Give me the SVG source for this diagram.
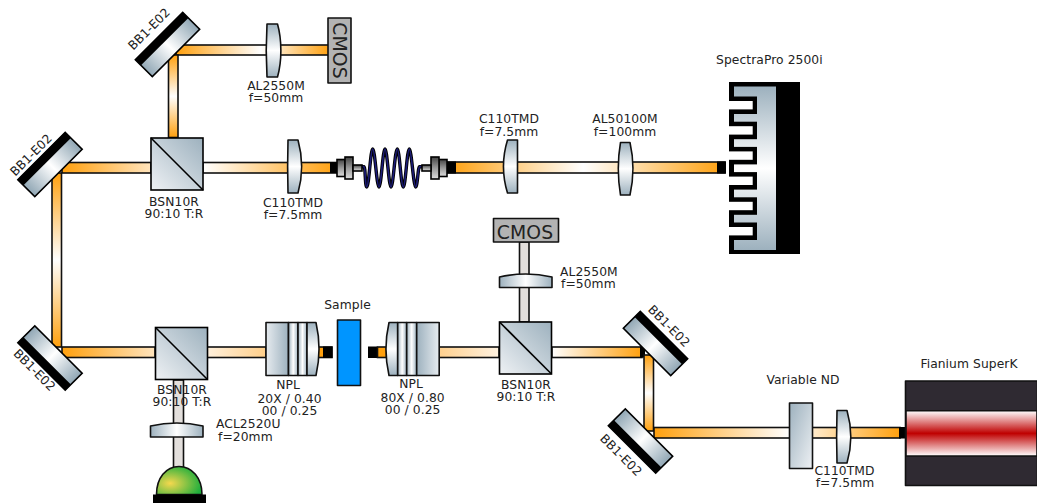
<svg xmlns="http://www.w3.org/2000/svg" width="1037" height="503" viewBox="0 0 1037 503">
<style>
text{font-family:"DejaVu Sans",sans-serif;font-size:12.3px;letter-spacing:.08px;fill:#222;text-anchor:middle}
.s{text-anchor:start}
.b{stroke:#111;stroke-width:1.6}
.k{stroke:#000;stroke-width:1.6}
.n{stroke:#111;stroke-width:1.6;stroke-linejoin:round}
.cm{font-size:18.800px}
</style>
<defs>
<linearGradient id="ow"><stop offset="0" stop-color="#ffa00e"/><stop offset="1" stop-color="#ffe4bd"/></linearGradient>
<linearGradient id="wo"><stop offset="0" stop-color="#fff"/><stop offset="1" stop-color="#ffa00e"/></linearGradient>
<linearGradient id="pl"><stop offset="0" stop-color="#fff0dc"/><stop offset="1" stop-color="#ffcf8a"/></linearGradient>
<linearGradient id="lp"><stop offset="0" stop-color="#ffd08e"/><stop offset="1" stop-color="#fff2e0"/></linearGradient>
<linearGradient id="owo"><stop offset="0" stop-color="#ffa00e"/><stop offset=".55" stop-color="#fff"/><stop offset="1" stop-color="#ffa00e"/></linearGradient>
<linearGradient id="owh"><stop offset="0" stop-color="#ffa00e"/><stop offset=".49" stop-color="#fff"/><stop offset="1" stop-color="#ffa00e"/></linearGradient>
<linearGradient id="owoV" x2="0" y2="1"><stop offset="0" stop-color="#ffa00e"/><stop offset=".5" stop-color="#fff"/><stop offset="1" stop-color="#ffa00e"/></linearGradient>
<linearGradient id="mir"><stop offset="0" stop-color="#91a7b5"/><stop offset=".5" stop-color="#fff"/><stop offset="1" stop-color="#91a7b5"/></linearGradient>
<linearGradient id="lensV" x2="0" y2="1"><stop offset="0" stop-color="#9db1be"/><stop offset=".5" stop-color="#fff"/><stop offset="1" stop-color="#9db1be"/></linearGradient>
<linearGradient id="lensH"><stop offset="0" stop-color="#9db1be"/><stop offset=".5" stop-color="#fff"/><stop offset="1" stop-color="#9db1be"/></linearGradient>
<linearGradient id="cube" x1="0" y1="1" x2="1" y2="0"><stop offset="0" stop-color="#eef1f4"/><stop offset="1" stop-color="#9db1be"/></linearGradient>
<linearGradient id="ltd"><stop offset="0" stop-color="#e6ebef"/><stop offset="1" stop-color="#9db1be"/></linearGradient>
<linearGradient id="dtl"><stop offset="0" stop-color="#9db1be"/><stop offset="1" stop-color="#e6ebef"/></linearGradient>
<linearGradient id="nd" x1="0" y1="0" x2="1" y2="1"><stop offset="0" stop-color="#9db1be"/><stop offset="1" stop-color="#eef1f4"/></linearGradient>
<linearGradient id="red" x2="0" y2="1"><stop offset="0" stop-color="#fff"/><stop offset=".5" stop-color="#bf0000"/><stop offset="1" stop-color="#fff"/></linearGradient>
<linearGradient id="conn" x2="0" y2="1"><stop offset="0" stop-color="#444"/><stop offset=".5" stop-color="#999"/><stop offset="1" stop-color="#ddd"/></linearGradient>
<radialGradient id="dome" cx=".3" cy=".6" r=".7"><stop offset="0" stop-color="#f5d84e"/><stop offset="1" stop-color="#1fae3c"/></radialGradient>
<g id="mirror"><rect x="-33.500" y="-12" width="67" height="24" fill="url(#mir)" class="k"/><rect x="-33.500" y="-12" width="67" height="8" fill="#000"/></g>
<g id="mirrorD"><rect x="-33.500" y="-12" width="67" height="24" fill="url(#mir)" class="k"/><rect x="-33.500" y="4" width="67" height="8" fill="#000"/></g>
<g id="cubeS"><rect width="52" height="52" fill="url(#cube)" class="k"/><path d="M0 0L52 52" class="k"/></g>
<g id="conL"><rect x="0" y="-8.500" width="8" height="17" fill="url(#conn)" class="k"/><rect x="8" y="-11" width="8" height="22" fill="url(#conn)" class="k"/><rect x="16" y="-3" width="9" height="6" fill="url(#conn)" class="k"/></g>
<path id="coil" d="M362 166.700H364C365.500 166.700 365 187 366.700 187C369 187 370.500 149 372.700 149C375 149 376.700 187 379 187C381.200 187 382.800 149 385 149C387.200 149 388.800 187 391 187C393.200 187 395 149 397.300 149C399.500 149 401 187 403.300 187C405.500 187 407 149 409.300 149C411.500 149 413.500 187 415.700 187C417.500 187 418 166.700 419.500 166.700H422" fill="none"/>
</defs>
<g id="connectors">
<rect x="176" y="45" width="154" height="10" fill="url(#owo)" class="b"/>
<rect x="168.500" y="55" width="9.500" height="82.500" fill="url(#owoV)" class="b"/>
<rect x="62" y="162.500" width="89" height="10.500" fill="url(#ow)" class="b"/>
<rect x="203" y="162.500" width="134" height="10.500" fill="url(#wo)" class="b"/>
<rect x="330" y="162" width="8" height="11" fill="#000"/>
<rect x="447" y="162" width="278" height="11" fill="url(#owh)" class="b"/>
<rect x="447" y="161.500" width="9" height="12" fill="#000"/>
<rect x="717" y="161.500" width="9" height="12" fill="#000"/>
<rect x="52" y="173" width="9.500" height="174" fill="url(#owoV)" class="b"/>
<rect x="62" y="347" width="93" height="10.500" fill="url(#ow)" class="b"/>
<rect x="207" y="347" width="59" height="10.500" fill="url(#pl)" class="b"/>
<rect x="318" y="347" width="14" height="10.500" fill="#ffa00e" class="b"/>
<rect x="323" y="346.500" width="9.500" height="11.500" fill="#000"/>
<rect x="368" y="346.500" width="9.500" height="11.500" fill="#000"/>
<rect x="377.500" y="347" width="9" height="10.500" fill="#ffa00e" class="b"/>
<rect x="439" y="347" width="60" height="10.500" fill="url(#lp)" class="b"/>
<rect x="552" y="347" width="90" height="10.500" fill="url(#wo)" class="b"/>
<rect x="640" y="346.500" width="5" height="11" fill="#000"/>
<rect x="644" y="355" width="9.500" height="76" fill="url(#owoV)" class="b"/>
<rect x="654" y="427.500" width="246" height="10.500" fill="url(#owo)" class="b"/>
<rect x="899" y="427" width="7" height="11.500" fill="#000"/>
<rect x="173.500" y="380" width="10" height="88" fill="#e3dfdc" class="b"/>
<rect x="519.500" y="242" width="9.500" height="80" fill="#e3dfdc" class="b"/>
<use href="#coil" stroke="#000" stroke-width="3.400"/>
<use href="#coil" stroke="#1c1c78" stroke-width="1.700"/>
</g>
<g id="mirror-top"><use href="#mirror" transform="translate(167.500,44.500) rotate(-45)"/><text transform="translate(152,32) rotate(-45)">BB1-E02</text></g>
<g id="mirror-left-top"><use href="#mirror" transform="translate(50,164.500) rotate(-45)"/><text transform="translate(34,158) rotate(-45)">BB1-E02</text></g>
<g id="mirror-left-bottom"><use href="#mirrorD" transform="translate(50,358) rotate(45)"/><text transform="translate(31.500,373) rotate(45)">BB1-E02</text></g>
<g id="mirror-right-upper"><use href="#mirror" transform="translate(655.500,343.500) rotate(45)"/><text transform="translate(666,329) rotate(45)">BB1-E02</text></g>
<g id="mirror-right-lower"><use href="#mirrorD" transform="translate(640.500,441) rotate(45)"/><text transform="translate(618,458) rotate(45)">BB1-E02</text></g>
<g id="lens-al2550-top"><path d="M267 24H277.500C282 40 282 61 277.500 77H267C266 60 266 41 267 24Z" fill="url(#lensV)" class="n"/><text x="276" y="89.500">AL2550M</text><text x="276" y="101.500">f=50mm</text></g>
<g id="cmos-top"><rect x="328" y="18" width="23" height="65" fill="#b3b3b3" class="n"/><text class="cm" transform="translate(333,50.500) rotate(90)">CMOS</text></g>
<g id="bs-top"><use href="#cubeS" x="151" y="138"/><text x="174" y="205.700">BSN10R</text><text x="174" y="217.700">90:10 T:R</text></g>
<g id="lens-c110-a"><path d="M288 140H298C303 158 303 175 298 193H288C287.500 175 287.500 158 288 140Z" fill="url(#lensV)" class="n"/><text x="293" y="206.500">C110TMD</text><text x="293" y="218.500">f=7.5mm</text></g>
<g id="fiber-left"><use href="#conL" x="337" y="168"/></g>
<g id="fiber-right"><use href="#conL" transform="translate(447,168) scale(-1,1)"/></g>
<g id="lens-c110-b"><path d="M507.500 140H517.500V193H507.500C502 175 502 158 507.500 140Z" fill="url(#lensV)" class="n"/><text x="509" y="123.300">C110TMD</text><text x="509" y="135.500">f=7.5mm</text></g>
<g id="lens-al50100"><path d="M620.500 142.500H630C634 160 634 177 630 195H620.500C617.500 177 617.500 160 620.500 142.500Z" fill="url(#lensV)" class="n"/><text x="625" y="123.300">AL50100M</text><text x="625" y="135.500">f=100mm</text></g>
<g id="spectrapro"><rect x="729" y="82" width="71" height="172" fill="#000"/><rect x="734" y="86.500" width="42" height="163.500" fill="url(#lensV)"/>
<rect x="729" y="96.500" width="28" height="17.500" fill="#000"/><rect x="729" y="121.700" width="28" height="17.500" fill="#000"/><rect x="729" y="146.900" width="28" height="17.500" fill="#000"/><rect x="729" y="172.100" width="28" height="17.500" fill="#000"/><rect x="729" y="197.300" width="28" height="17.500" fill="#000"/><rect x="729" y="222.500" width="28" height="17.500" fill="#000"/>
<rect x="728" y="101" width="24.700" height="8.400" fill="#fff"/><rect x="728" y="126.200" width="24.700" height="8.400" fill="#fff"/><rect x="728" y="151.400" width="24.700" height="8.400" fill="#fff"/><rect x="728" y="176.600" width="24.700" height="8.400" fill="#fff"/><rect x="728" y="201.800" width="24.700" height="8.400" fill="#fff"/><rect x="728" y="227" width="24.700" height="8.400" fill="#fff"/>
<text class="s" x="716" y="64">SpectraPro 2500i</text></g>
<g id="bs-bottom-left"><use href="#cubeS" x="155.500" y="327.500"/><text x="182" y="393.500">BSN10R</text><text x="182" y="405.600">90:10 T:R</text></g>
<g id="lens-acl2520"><path d="M150.500 426Q177 420 203 426V437H150.500Z" fill="url(#lensH)" class="n"/><text class="s" x="216" y="428">ACL2520U</text><text class="s" x="218" y="441">f=20mm</text></g>
<g id="detector"><path d="M156.500 494.500C156.500 478 166 466.500 179 466.500C192 466.500 202 478 202 494.500Z" fill="url(#dome)" class="n"/><rect x="153" y="494.500" width="53" height="8.500" fill="#000"/></g>
<g id="npl-left"><rect x="266" y="322.500" width="22.500" height="53" fill="url(#ltd)" class="n"/><rect x="288.500" y="322.500" width="9.500" height="53" fill="url(#lensH)" class="n"/><rect x="298" y="322.500" width="9" height="53" fill="url(#lensH)" class="n"/><path d="M307 322.500H316C320 340 320 358 316 375.500H307Z" fill="url(#lensV)" class="n"/><text x="288" y="389">NPL</text><text x="289.500" y="403">20X / 0.40</text><text x="289.500" y="415">00 / 0.25</text></g>
<g id="sample"><rect x="337.500" y="320" width="23" height="65.500" fill="#0095ff" class="n"/><text x="347.500" y="309">Sample</text></g>
<g id="npl-right"><path d="M397.700 322.500H389C385 340 385 358 389 375.500H397.700Z" fill="url(#lensV)" class="n"/><rect x="397.700" y="322.500" width="9" height="53" fill="url(#lensH)" class="n"/><rect x="406.700" y="322.500" width="10" height="53" fill="url(#lensH)" class="n"/><rect x="416.700" y="322.500" width="22.500" height="53" fill="url(#dtl)" class="n"/><text x="411" y="388">NPL</text><text x="412.600" y="402">80X / 0.80</text><text x="412.600" y="414">00 / 0.25</text></g>
<g id="bs-bottom-right"><use href="#cubeS" x="499.500" y="322"/><text x="526" y="389">BSN10R</text><text x="526" y="401">90:10 T:R</text></g>
<g id="lens-al2550-right"><path d="M499.500 277Q526 271 552 277V287.500H499.500Z" fill="url(#lensH)" class="n"/><text class="s" x="560" y="275.700">AL2550M</text><text class="s" x="561" y="288">f=50mm</text></g>
<g id="cmos-right"><rect x="493.500" y="218.500" width="65" height="23.500" fill="#b3b3b3" class="n"/><text class="cm" x="525" y="239">CMOS</text></g>
<g id="variable-nd"><rect x="789.500" y="403" width="23" height="65.500" fill="url(#nd)" class="n"/><text x="803" y="384">Variable ND</text></g>
<g id="lens-c110-c"><path d="M837 410.500H847C852 428 852 446 847 463H837C836.500 446 836.500 428 837 410.500Z" fill="url(#lensV)" class="n"/><text x="844.500" y="474.500">C110TMD</text><text x="845" y="486.500">f=7.5mm</text></g>
<g id="fianium"><rect x="905.500" y="381" width="132" height="104.500" fill="#2f2a32" class="n"/><rect x="906" y="410.700" width="131" height="45.300" fill="url(#red)" class="n"/><text x="969" y="368">Fianium SuperK</text></g>
</svg>
